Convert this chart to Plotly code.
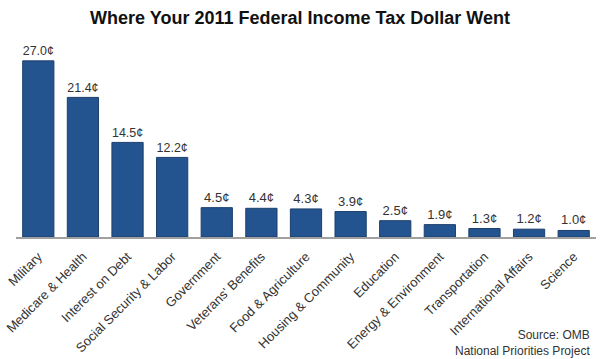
import plotly.graph_objects as go

categories = ["Military", "Medicare & Health", "Interest on Debt", "Social Security & Labor",
              "Government", "Veterans' Benefits", "Food & Agriculture", "Housing & Community",
              "Education", "Energy & Environment", "Transportation", "International Affairs", "Science"]
values = [27.0, 21.4, 14.5, 12.2, 4.5, 4.4, 4.3, 3.9, 2.5, 1.9, 1.3, 1.2, 1.0]
labels = [f"{v:.1f}¢" for v in values]

fig = go.Figure(go.Bar(
    x=categories, y=values, text=labels, textposition="outside",
    textfont=dict(size=13, color="#333333", family="Liberation Sans, Arial"),
    marker=dict(color="#24548f", line=dict(color="#1b3f6c", width=1)),
    cliponaxis=False,
))

fig.update_layout(
    width=600, height=359,
    margin=dict(l=16, r=4, t=40, b=122, autoexpand=False),
    plot_bgcolor="white", paper_bgcolor="white",
    bargap=0.3,
    showlegend=False,
    title=dict(text="<b>Where Your 2011 Federal Income Tax Dollar Went</b>",
               x=0.5, xanchor="center", y=0.95, yanchor="middle",
               font=dict(size=18, color="#111111", family="Liberation Sans, Arial")),
    font=dict(family="Liberation Sans, Arial", color="#333333"),
)
fig.update_xaxes(showline=True, linecolor="#a0a0a0", linewidth=2, tickangle=-45,
                 tickfont=dict(size=13, color="#333333"), ticks="outside", ticklen=5,
                 tickcolor="rgba(0,0,0,0)", showgrid=False, automargin=False)
fig.update_yaxes(visible=False, range=[0, 30.2], showgrid=False, automargin=False)

fig.add_annotation(text="Source: OMB<br>National Priorities Project", xref="paper", yref="paper",
                   x=0.993, y=-0.625, xanchor="right", yanchor="bottom", align="right",
                   showarrow=False, font=dict(size=12, color="#333333"))

fig.write_html("out.html", config={"displayModeBar": False},
               post_script="document.body.style.margin='0';document.body.style.overflow='hidden';")
